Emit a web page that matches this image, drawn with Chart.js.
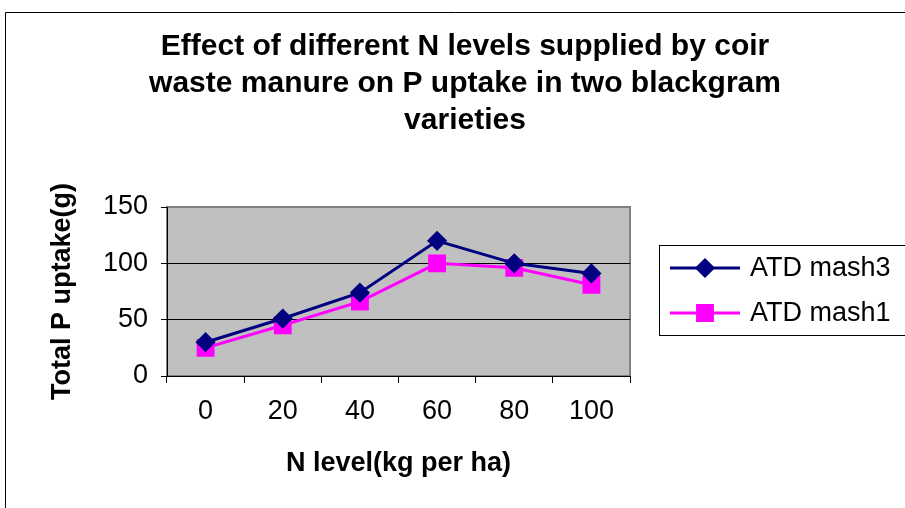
<!DOCTYPE html>
<html>
<head>
<meta charset="utf-8">
<script src="https://cdn.jsdelivr.net/npm/chart.js@4/dist/chart.umd.min.js"></script>
<style>
  html, body { margin: 0; padding: 0; background: #ffffff; }
  #wrap { position: relative; width: 905px; height: 508px; }
</style>
</head>
<body>
<div id="wrap"><canvas id="c" width="905" height="508"></canvas></div>
<script>
const titleLines = ["Effect of different N levels supplied by coir", "waste manure on P uptake in two blackgram", "varieties"];
const nLevels = ["0", "20", "40", "60", "80", "100"];
const mash3 = [30, 51, 74, 120, 100, 91];
const mash1 = [25, 45, 66, 100, 96, 81];
const seriesNames = ["ATD mash3", "ATD mash1"];
const yTitle = "Total P uptake(g)";
const xTitle = "N level(kg per ha)";

const FONT = "'Liberation Sans', Arial, sans-serif";

const decorPlugin = {
  id: 'decor',
  beforeDraw(chart) {
    const ctx = chart.ctx;
    const a = chart.chartArea;
    ctx.save();
    ctx.fillStyle = '#ffffff';
    ctx.fillRect(0, 0, chart.width, chart.height);
    // outer chart frame
    ctx.strokeStyle = '#000000';
    ctx.lineWidth = 1;
    ctx.beginPath();
    ctx.moveTo(5.5, chart.height);
    ctx.lineTo(5.5, 12.5);
    ctx.lineTo(chart.width, 12.5);
    ctx.stroke();
    // plot area
    ctx.fillStyle = '#c0c0c0';
    ctx.fillRect(a.left, a.top, a.right - a.left, a.bottom - a.top);
    ctx.strokeStyle = '#808080';
    ctx.lineWidth = 2;
    ctx.strokeRect(a.left, a.top, a.right - a.left, a.bottom - a.top);
    // title
    ctx.fillStyle = '#000000';
    ctx.font = "bold 30px " + FONT;
    ctx.textAlign = 'center';
    ctx.textBaseline = 'middle';
    const ys = [47, 84, 121];
    titleLines.forEach((t, i) => ctx.fillText(t, 465, ys[i]));
    ctx.restore();
  },
  afterDraw(chart) {
    const ctx = chart.ctx;
    ctx.save();
    // legend box
    const bx = 659, by = 245, bw = 260, bh = 90;
    ctx.strokeStyle = '#000000';
    ctx.lineWidth = 1;
    ctx.strokeRect(bx + 0.5, by + 0.5, bw, bh);
    ctx.font = "27px " + FONT;
    ctx.textAlign = 'left';
    ctx.textBaseline = 'middle';
    const rows = [268, 313];
    chart.data.datasets.forEach((ds, i) => {
      const y = rows[i];
      ctx.strokeStyle = ds.borderColor;
      ctx.lineWidth = ds.borderWidth;
      ctx.beginPath();
      ctx.moveTo(670, y);
      ctx.lineTo(740, y);
      ctx.stroke();
      ctx.fillStyle = ds.pointBackgroundColor;
      ctx.strokeStyle = ds.pointBorderColor;
      Chart.helpers.drawPoint(ctx, {
        pointStyle: ds.pointStyle,
        radius: ds.pointRadius,
        rotation: 0,
        borderWidth: 1
      }, 705, y);
      ctx.fillStyle = '#000000';
      ctx.fillText(ds.label, 750, y + 1);
    });
    ctx.restore();
  }
};

new Chart(document.getElementById('c'), {
  type: 'line',
  data: {
    labels: nLevels,
    datasets: [
      {
        label: seriesNames[0],
        data: mash3,
        borderColor: '#000080',
        backgroundColor: '#000080',
        pointBackgroundColor: '#000080',
        pointBorderColor: '#000080',
        borderWidth: 3,
        pointStyle: 'rectRot',
        pointRadius: 8,
        pointHoverRadius: 8,
        tension: 0
      },
      {
        label: seriesNames[1],
        data: mash1,
        borderColor: '#ff00ff',
        backgroundColor: '#ff00ff',
        pointBackgroundColor: '#ff00ff',
        pointBorderColor: '#ff00ff',
        borderWidth: 3,
        pointStyle: 'rect',
        pointRadius: 10.5,
        pointHoverRadius: 10.5,
        tension: 0
      }
    ]
  },
  options: {
    responsive: false,
    animation: false,
    devicePixelRatio: 1,
    layout: { padding: { top: 207, right: 275, bottom: 0, left: 0 } },
    plugins: {
      legend: { display: false },
      title: { display: false },
      tooltip: { enabled: false }
    },
    scales: {
      x: {
        type: 'category',
        offset: true,
        afterFit(scale) { scale.height = 132; },
        grid: {
          offset: true,
          drawOnChartArea: false,
          drawTicks: true,
          tickLength: 7,
          tickColor: '#000000',
          color: '#000000'
        },
        border: { display: true, color: '#000000', width: 1 },
        ticks: {
          color: '#000000',
          font: { family: FONT, size: 27 },
          padding: 12,
          maxRotation: 0
        },
        title: {
          display: true,
          text: xTitle,
          color: '#000000',
          font: { family: FONT, size: 27, weight: 'bold' },
          padding: { top: 0, bottom: 28 }
        }
      },
      y: {
        min: 0,
        max: 150,
        afterFit(scale) { scale.width = 167; },
        grid: {
          drawOnChartArea: true,
          tickLength: 6,
          tickColor: '#000000',
          color: (c) => (c.tick && (c.tick.value === 50 || c.tick.value === 100)) ? '#000000' : 'rgba(0,0,0,0)',
          lineWidth: 1
        },
        border: { display: true, color: '#000000', width: 1 },
        ticks: {
          stepSize: 50,
          color: '#000000',
          font: { family: FONT, size: 27 },
          padding: 13
        },
        title: {
          display: true,
          text: yTitle,
          color: '#000000',
          font: { family: FONT, size: 27, weight: 'bold' },
          padding: { top: 46, bottom: 0 }
        }
      }
    }
  },
  plugins: [decorPlugin]
});
</script>
</body>
</html>
